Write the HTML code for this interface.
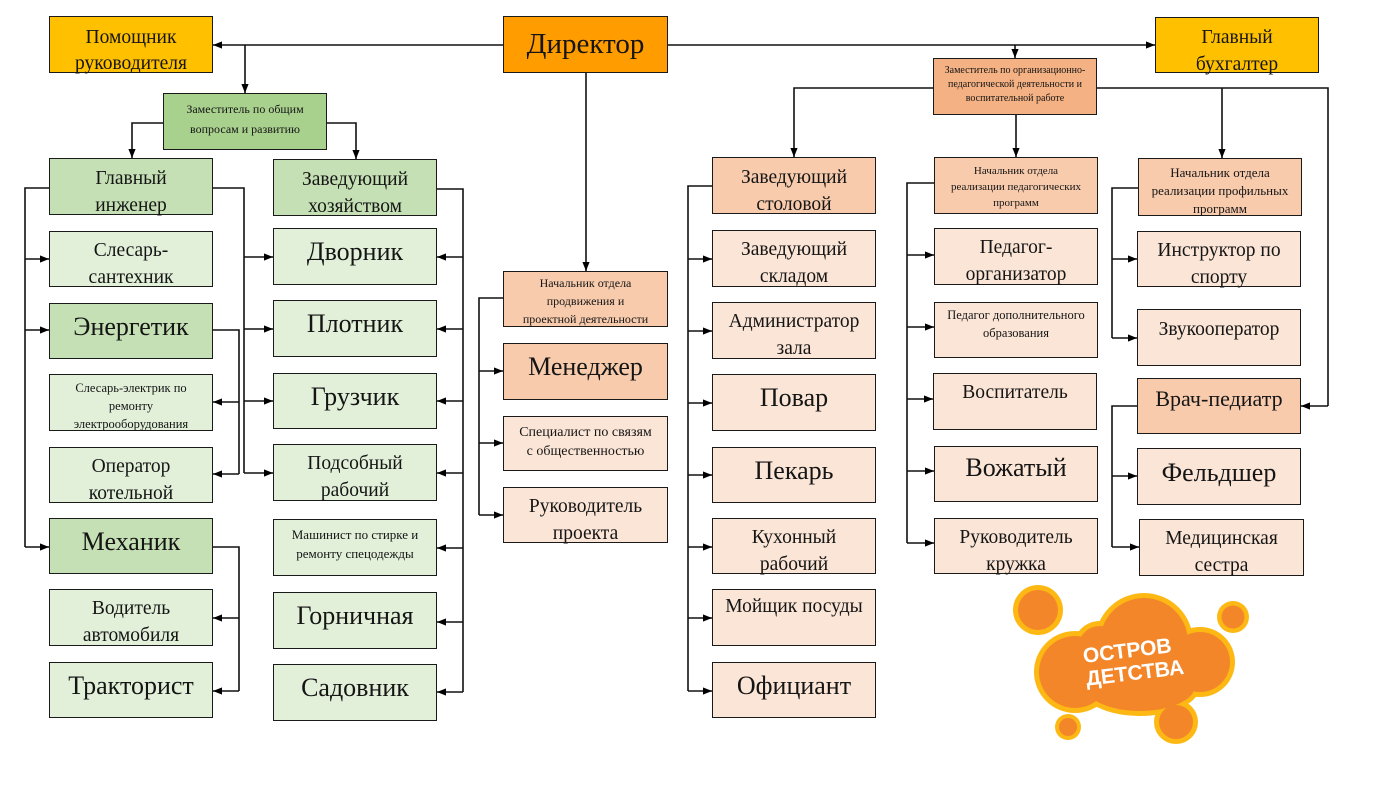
<!DOCTYPE html>
<html><head><meta charset="utf-8">
<style>
html,body{margin:0;padding:0;background:#fff;}
body{width:1382px;height:792px;position:relative;overflow:hidden;font-family:"Liberation Serif","Noto Serif CJK SC",serif;color:#151515;}
.b{position:absolute;box-sizing:border-box;border:1.5px solid #1a1a1a;text-align:center;white-space:nowrap;overflow:visible;}
.Y{background:#FFC000}.D{background:#FF9C00}
.G1{background:#A9D18E}.G2{background:#C5E0B4}.G3{background:#E2F0D9}
.O1{background:#F4B183}.O2{background:#F8CBAD}.O3{background:#FBE5D6}
.L{font-size:26px;line-height:36px;padding-top:5px}
.M{font-size:19.5px;line-height:26.5px;padding-top:6px}
svg{position:absolute;left:0;top:0}
</style></head><body>
<svg width="1382" height="792" viewBox="0 0 1382 792">
<defs>
<marker id="a" viewBox="0 0 10 8" refX="10" refY="4" markerWidth="9" markerHeight="7.5" markerUnits="userSpaceOnUse" orient="auto"><path d="M0,0 L10,4 L0,8 z" fill="#000"/></marker>
</defs>
<g fill="none" stroke="#111" stroke-width="1.6">
<path d="M503,45 H213" marker-end="url(#a)"/>
<path d="M245,45 V93" marker-end="url(#a)"/>
<path d="M668,45 H1155" marker-end="url(#a)"/>
<path d="M1015,45 V58" marker-end="url(#a)"/>
<path d="M586,73 V271" marker-end="url(#a)"/>
<path d="M163,123 H132 V158" marker-end="url(#a)"/>
<path d="M327,123 H356 V159" marker-end="url(#a)"/>
<path d="M49,188 H25 V547"/>
<path d="M25,259 H49" marker-end="url(#a)"/>
<path d="M25,330 H49" marker-end="url(#a)"/>
<path d="M25,547 H49" marker-end="url(#a)"/>
<path d="M213,188 H244 V473"/>
<path d="M244,257 H273" marker-end="url(#a)"/>
<path d="M244,329 H273" marker-end="url(#a)"/>
<path d="M244,401 H273" marker-end="url(#a)"/>
<path d="M244,473 H273" marker-end="url(#a)"/>
<path d="M213,330 H239 V474"/>
<path d="M239,402 H213" marker-end="url(#a)"/>
<path d="M239,474 H213" marker-end="url(#a)"/>
<path d="M213,547 H239 V691"/>
<path d="M239,618 H213" marker-end="url(#a)"/>
<path d="M239,691 H213" marker-end="url(#a)"/>
<path d="M437,189 H463 V692"/>
<path d="M463,257 H437" marker-end="url(#a)"/>
<path d="M463,329 H437" marker-end="url(#a)"/>
<path d="M463,401 H437" marker-end="url(#a)"/>
<path d="M463,473 H437" marker-end="url(#a)"/>
<path d="M463,548 H437" marker-end="url(#a)"/>
<path d="M463,622 H437" marker-end="url(#a)"/>
<path d="M463,692 H437" marker-end="url(#a)"/>
<path d="M503,298 H479 V515"/>
<path d="M479,371 H503" marker-end="url(#a)"/>
<path d="M479,443 H503" marker-end="url(#a)"/>
<path d="M479,515 H503" marker-end="url(#a)"/>
<path d="M933,88 H794 V157" marker-end="url(#a)"/>
<path d="M1097,88 H1328 V406"/>
<path d="M1328,406 H1301" marker-end="url(#a)"/>
<path d="M1222,88 V158" marker-end="url(#a)"/>
<path d="M1016,115 V157" marker-end="url(#a)"/>
<path d="M712,186 H688 V691"/>
<path d="M688,259 H712" marker-end="url(#a)"/>
<path d="M688,331 H712" marker-end="url(#a)"/>
<path d="M688,403 H712" marker-end="url(#a)"/>
<path d="M688,475 H712" marker-end="url(#a)"/>
<path d="M688,547 H712" marker-end="url(#a)"/>
<path d="M688,618 H712" marker-end="url(#a)"/>
<path d="M688,691 H712" marker-end="url(#a)"/>
<path d="M934,183 H907 V543"/>
<path d="M907,255 H934" marker-end="url(#a)"/>
<path d="M907,327 H934" marker-end="url(#a)"/>
<path d="M907,399 H933" marker-end="url(#a)"/>
<path d="M907,471 H934" marker-end="url(#a)"/>
<path d="M907,543 H934" marker-end="url(#a)"/>
<path d="M1138,188 H1112 V338"/>
<path d="M1112,259 H1137" marker-end="url(#a)"/>
<path d="M1112,338 H1137" marker-end="url(#a)"/>
<path d="M1137,406 H1112 V547"/>
<path d="M1112,476 H1137" marker-end="url(#a)"/>
<path d="M1112,547 H1139" marker-end="url(#a)"/>
</g>
<g>
<g fill="#FDB813">
<circle cx="1038" cy="610" r="25"/>
<circle cx="1233" cy="617" r="16"/>
<circle cx="1068" cy="727" r="13"/>
<circle cx="1176" cy="722" r="22"/>
<circle cx="1144" cy="642" r="49"/>
<circle cx="1075" cy="672" r="41"/>
<circle cx="1200" cy="662" r="35"/>
<ellipse cx="1140" cy="686" rx="60" ry="30"/>
<circle cx="1100" cy="648" r="27"/>
</g>
<g fill="#F4862A">
<circle cx="1038" cy="610" r="20"/>
<circle cx="1233" cy="617" r="11.5"/>
<circle cx="1068" cy="727" r="9"/>
<circle cx="1176" cy="722" r="17"/>
<circle cx="1144" cy="642" r="44"/>
<circle cx="1075" cy="672" r="36"/>
<circle cx="1200" cy="662" r="30"/>
<ellipse cx="1140" cy="686" rx="55" ry="25"/>
<circle cx="1100" cy="648" r="22"/>
<ellipse cx="1140" cy="668" rx="60" ry="28"/>
</g>
<g fill="#fff" font-family="'Liberation Sans','DejaVu Sans',sans-serif" font-weight="bold" font-size="21" text-anchor="middle" transform="rotate(-7 1133 665)">
<text x="1129" y="657">ОСТРОВ</text>
<text x="1134" y="680">ДЕТСТВА</text>
</g>
</g>
</svg>

<div class="b Y" style="left:49px;top:16px;width:164px;height:57px;font-size:19.5px;line-height:26px;padding-top:8px">Помощник<br>руководителя</div>
<div class="b D" style="left:503px;top:16px;width:165px;height:57px;font-size:29px;line-height:50px;padding-top:2px">Директор</div>
<div class="b Y" style="left:1155px;top:17px;width:164px;height:56px;font-size:19.5px;line-height:27px;padding-top:6px">Главный<br>бухгалтер</div>

<div class="b G1" style="left:163px;top:93px;width:164px;height:57px;font-size:12px;line-height:20px;padding-top:5px">Заместитель по общим<br>вопросам и развитию</div>
<div class="b O1" style="left:933px;top:58px;width:164px;height:57px;font-size:10px;line-height:14px;padding-top:5px">Заместитель по организационно-<br>педагогической деятельности и<br>воспитательной работе</div>

<div class="b G2" style="left:49px;top:158px;width:164px;height:57px;font-size:19.5px;line-height:27px;padding-top:6px">Главный<br>инженер</div>
<div class="b G2" style="left:273px;top:159px;width:164px;height:57px;font-size:19.5px;line-height:27px;padding-top:6px">Заведующий<br>хозяйством</div>

<div class="b G3 M" style="left:49px;top:231px;width:164px;height:56px">Слесарь-<br>сантехник</div>
<div class="b G2 L" style="left:49px;top:303px;width:164px;height:56px">Энергетик</div>
<div class="b G3" style="left:49px;top:374px;width:164px;height:57px;font-size:12.5px;line-height:18px;padding-top:4px">Слесарь-электрик по<br>ремонту<br>электрооборудования</div>
<div class="b G3 M" style="left:49px;top:447px;width:164px;height:56px">Оператор<br>котельной</div>
<div class="b G2 L" style="left:49px;top:518px;width:164px;height:56px">Механик</div>
<div class="b G3 M" style="left:49px;top:589px;width:164px;height:57px">Водитель<br>автомобиля</div>
<div class="b G3 L" style="left:49px;top:662px;width:164px;height:56px">Тракторист</div>

<div class="b G3 L" style="left:273px;top:228px;width:164px;height:57px">Дворник</div>
<div class="b G3 L" style="left:273px;top:300px;width:164px;height:57px">Плотник</div>
<div class="b G3 L" style="left:273px;top:373px;width:164px;height:56px">Грузчик</div>
<div class="b G3 M" style="left:273px;top:444px;width:164px;height:57px">Подсобный<br>рабочий</div>
<div class="b G3" style="left:273px;top:519px;width:164px;height:57px;font-size:13px;line-height:19px;padding-top:5px">Машинист по стирке и<br>ремонту спецодежды</div>
<div class="b G3 L" style="left:273px;top:592px;width:164px;height:57px">Горничная</div>
<div class="b G3 L" style="left:273px;top:664px;width:164px;height:57px">Садовник</div>

<div class="b O2" style="left:503px;top:271px;width:165px;height:56px;font-size:12px;line-height:18px;padding-top:2px">Начальник отдела<br>продвижения и<br>проектной деятельности</div>
<div class="b O2 L" style="left:503px;top:343px;width:165px;height:57px">Менеджер</div>
<div class="b O3" style="left:503px;top:416px;width:165px;height:55px;font-size:14px;line-height:19px;padding-top:6px">Специалист по связям<br>с общественностью</div>
<div class="b O3 M" style="left:503px;top:487px;width:165px;height:56px">Руководитель<br>проекта</div>

<div class="b O2" style="left:712px;top:157px;width:164px;height:57px;font-size:19.5px;line-height:27px;padding-top:6px">Заведующий<br>столовой</div>
<div class="b O3 M" style="left:712px;top:230px;width:164px;height:57px">Заведующий<br>складом</div>
<div class="b O3 M" style="left:712px;top:302px;width:164px;height:57px">Администратор<br>зала</div>
<div class="b O3 L" style="left:712px;top:374px;width:164px;height:57px">Повар</div>
<div class="b O3 L" style="left:712px;top:447px;width:164px;height:56px">Пекарь</div>
<div class="b O3 M" style="left:712px;top:518px;width:164px;height:56px">Кухонный<br>рабочий</div>
<div class="b O3 M" style="left:712px;top:589px;width:164px;height:57px;padding-top:4px">Мойщик посуды</div>
<div class="b O3 L" style="left:712px;top:662px;width:164px;height:56px">Официант</div>

<div class="b O2" style="left:934px;top:157px;width:164px;height:57px;font-size:11px;line-height:16px;padding-top:5px">Начальник отдела<br>реализации педагогических<br>программ</div>
<div class="b O3 M" style="left:934px;top:228px;width:164px;height:57px">Педагог-<br>организатор</div>
<div class="b O3" style="left:934px;top:302px;width:164px;height:56px;font-size:12.5px;line-height:18px;padding-top:3px">Педагог дополнительного<br>образования</div>
<div class="b O3 M" style="left:933px;top:373px;width:164px;height:57px">Воспитатель</div>
<div class="b O3 L" style="left:934px;top:446px;width:164px;height:56px;padding-top:3px">Вожатый</div>
<div class="b O3 M" style="left:934px;top:518px;width:164px;height:56px">Руководитель<br>кружка</div>

<div class="b O2" style="left:1138px;top:158px;width:164px;height:58px;font-size:13px;line-height:18px;padding-top:5px">Начальник отдела<br>реализации профильных<br>программ</div>
<div class="b O3 M" style="left:1137px;top:231px;width:164px;height:56px">Инструктор по<br>спорту</div>
<div class="b O3 M" style="left:1137px;top:309px;width:164px;height:57px;padding-top:7px">Звукооператор</div>
<div class="b O2" style="left:1137px;top:378px;width:164px;height:56px;font-size:22px;line-height:30px;padding-top:5px">Врач-педиатр</div>
<div class="b O3 L" style="left:1137px;top:448px;width:164px;height:57px;padding-top:6px">Фельдшер</div>
<div class="b O3 M" style="left:1139px;top:519px;width:165px;height:57px">Медицинская<br>сестра</div>
</body></html>
